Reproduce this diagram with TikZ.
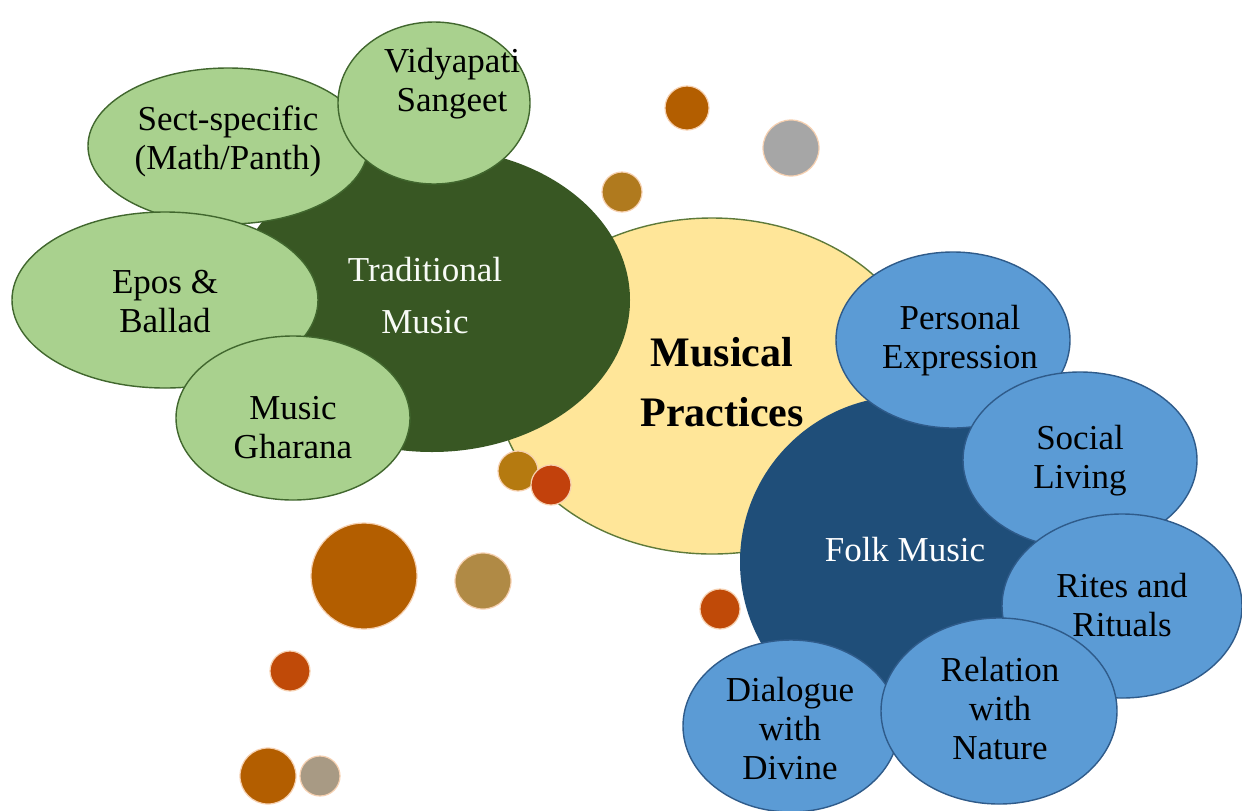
\documentclass[tikz,border=0pt]{standalone}
\usepackage{fontspec}
\setmainfont{Liberation Serif}
\usetikzlibrary{shapes.geometric}

\definecolor{lgreen}{HTML}{A9D18E}
\definecolor{dgreen}{HTML}{385723}
\definecolor{gline}{HTML}{41672E}
\definecolor{pyellow}{HTML}{FFE699}
\definecolor{yline}{HTML}{5E7A3A}
\definecolor{dblue}{HTML}{1F4E79}
\definecolor{lblue}{HTML}{5B9BD5}
\definecolor{bline}{HTML}{2F5B8A}
\definecolor{dotA}{HTML}{B35E00}
\definecolor{dotB}{HTML}{A6A6A6}
\definecolor{dotC}{HTML}{B07A1E}
\definecolor{dotD}{HTML}{B57A10}
\definecolor{dotE}{HTML}{C2410C}
\definecolor{dotF}{HTML}{B08A45}
\definecolor{dotG}{HTML}{A89A84}
\definecolor{dotH}{HTML}{C04A08}
\definecolor{halo}{HTML}{F6D0B0}

\tikzset{
  blob/.style={ellipse, inner sep=0pt, line width=0.7pt},
  greenblob/.style={blob, draw=gline, fill=lgreen},
  blueblob/.style={blob, draw=bline, fill=lblue},
  txt/.style={align=center, font=\fontsize{17.5}{19.5}\selectfont, text=black},
  dot/.style={circle, inner sep=0pt, draw=halo, line width=0.6pt},
}

\begin{document}
\begin{tikzpicture}[x=0.5pt, y=-0.5pt]
\useasboundingbox (0,0) rectangle (1242,810);
\fill[white] (0,0) rectangle (1242,810);

% central practice area
\node[blob, draw=yline, fill=pyellow, minimum width=215pt, minimum height=168pt] (prac) at (712,386) {};

% traditional music cluster
\node[blob, fill=dgreen, minimum width=198pt, minimum height=152pt] (trad) at (432,300) {};
\node[greenblob, minimum width=140pt, minimum height=78pt] (sect) at (228,146) {};
\node[greenblob, minimum width=96pt, minimum height=81pt] (vidy) at (434,103) {};
\node[greenblob, minimum width=153pt, minimum height=88pt] (epos) at (165,300) {};
\node[greenblob, minimum width=117pt, minimum height=82pt] (ghar) at (293,418) {};

% folk music cluster
\node[blob, fill=dblue, minimum width=166pt, minimum height=166pt] (folk) at (906,562) {};
\node[blueblob, minimum width=117pt, minimum height=88pt] (pers) at (953,340) {};
\node[blueblob, minimum width=117pt, minimum height=88pt] (soci) at (1080,460) {};
\node[blueblob, minimum width=120pt, minimum height=92pt] (rite) at (1122,606) {};
\node[blueblob, minimum width=108pt, minimum height=86pt] (dial) at (791,726) {};
\node[blueblob, minimum width=118pt, minimum height=93pt] (rela) at (999,711) {};

% labels
\node[txt, text=white!92!lgreen, font=\fontsize{17.5}{26}\selectfont] (trad-t) at (425,296) {Traditional\\Music};
\node[txt] (sect-t) at (228,141) {Sect-specific\\(Math/Panth)};
\node[txt] (vidy-t) at (452,84) {Vidyapati\\Sangeet};
\node[txt] (epos-t) at (165,302) {Epos \&\\Ballad};
\node[txt] (ghar-t) at (293,428) {Music\\Gharana};
\node[txt, font=\bfseries\fontsize{21}{30}\selectfont] (prac-t) at (722,382) {Musical\\Practices};
\node[txt, text=white] (folk-t) at (905,550) {Folk Music};
\node[txt] (pers-t) at (960,341) {Personal\\Expression};
\node[txt] (soci-t) at (1080,461) {Social\\Living};
\node[txt] (rite-t) at (1122,605) {Rites and\\Rituals};
\node[txt] (rela-t) at (1000,709) {Relation\\with\\Nature};
\node[txt] (dial-t) at (790,729) {Dialogue\\with\\Divine};

% scattered dots
\node[dot, fill=dotA, minimum size=22pt] (d1) at (687,108) {};
\node[dot, fill=dotB, minimum size=28pt] (d2) at (791,148) {};
\node[dot, fill=dotC, minimum size=20pt] (d3) at (622,192) {};
\node[dot, fill=dotD, minimum size=20pt] (d4) at (518,471) {};
\node[dot, fill=dotE, minimum size=20pt] (d5) at (551,485) {};
\node[dot, fill=dotA, minimum size=53pt] (d6) at (364,576) {};
\node[dot, fill=dotF, minimum size=28pt] (d7) at (483,581) {};
\node[dot, fill=dotH, minimum size=20pt] (d8) at (720,609) {};
\node[dot, fill=dotH, minimum size=20pt] (d9) at (290,671) {};
\node[dot, fill=dotA, minimum size=28pt] (d10) at (268,776) {};
\node[dot, fill=dotG, minimum size=20pt] (d11) at (320,776) {};
\end{tikzpicture}
\end{document}
